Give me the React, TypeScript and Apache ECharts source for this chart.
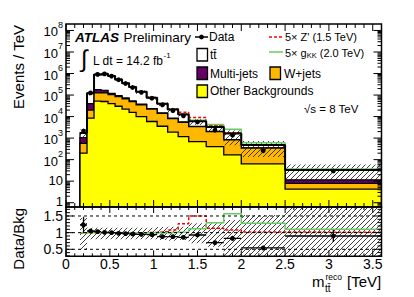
import React, { useEffect, useRef } from "react";
import * as echarts from "echarts";

const FONT = '"Liberation Sans", Arial, Helvetica, sans-serif';

// ---- data (Events / TeV) ----
const binEdges = [0.16, 0.24, 0.32, 0.4, 0.48, 0.56, 0.64, 0.72, 0.8, 0.92, 1.04, 1.16, 1.28, 1.4, 1.6, 1.8, 2.0, 2.5, 3.6];
const otherBkg = [200, 8500, 52500, 50100, 39800, 30200, 22400, 15800, 10000, 5900, 3550, 1900, 1175, 690, 400, 166, 63, 4.3];
const wJets = [375, 11500, 73500, 76000, 65000, 55000, 45000, 34000, 25500, 16500, 10500, 6200, 4200, 2700, 1600, 660, 280, 3.6];
const multiJets = [475, 19800, 52000, 40000, 16000, 9000, 5500, 3500, 2200, 1200, 700, 350, 230, 150, 60, 30, 12, 3.6];
const ttbar = [690, 80000, 713000, 789000, 638000, 431000, 282000, 181000, 103000, 52300, 25000, 13000, 7000, 2500, 1250, 800, 124, 21.6];
const dataOverBkg = [1.23, 1.05, 1.03, 1.01, 1.0, 0.98, 0.97, 0.96, 0.95, 0.94, 0.88, 0.88, 0.86, 0.93, 0.7, 0.83, 0.54, 0.9];
const dataErr = [0.2, 0.03, 0.01, 0.01, 0.01, 0.01, 0.01, 0.01, 0.015, 0.02, 0.025, 0.03, 0.04, 0.05, 0.07, 0.09, 0.12, 0.2];
const systUp = [0.44, 0.15, 0.15, 0.15, 0.15, 0.15, 0.15, 0.15, 0.15, 0.15, 0.17, 0.18, 0.18, 0.28, 0.28, 0.38, 0.53, 0.8];
const systDown = [0.52, 0.2, 0.2, 0.2, 0.2, 0.2, 0.2, 0.2, 0.2, 0.2, 0.22, 0.24, 0.22, 0.32, 0.42, 0.72, 0.72, 0.72];
const zprimeRatio = [1, 1, 1, 1, 1, 1, 1, 1, 1, 1.01, 1.03, 1.08, 1.27, 1.5, 1.13, 1.08, 1.02, 1.01];
const gkkRatio = [1, 1, 1, 1, 1, 1, 1, 1, 1, 1, 1, 1.01, 1.02, 1.12, 1.3, 1.57, 1.28, 1.1];

// ---- axis ticks / labels ----
const yExponents = [0, 1, 2, 3, 4, 5, 6, 7, 8];
const ratioTickLabels = [0.5, 1, 1.5];
const xTickLabels = [0, 0.5, 1, 1.5, 2, 2.5, 3, 3.5];

const XMIN = 0, XMAX = 3.6;
const YMIN = -0.2, YMAX = 8.3;
const RMIN = 0.29, RMAX = 1.77;

const C_OTHER = "#ffff00", C_W = "#ffb800", C_MJ = "#660066", C_Z = "#ff0000", C_G = "#66cc66";

const lg = Math.log10;

function makeHatch() {
  const s = 5;
  const c = document.createElement("canvas");
  c.width = s; c.height = s;
  const ctx = c.getContext("2d")!;
  ctx.strokeStyle = "#111";
  ctx.lineWidth = 0.8;
  ctx.beginPath();
  ctx.moveTo(0, s); ctx.lineTo(s, 0);
  ctx.moveTo(-s / 2, s / 2); ctx.lineTo(s / 2, -s / 2);
  ctx.moveTo(s / 2, s * 1.5); ctx.lineTo(s * 1.5, s / 2);
  ctx.stroke();
  return { image: c, repeat: "repeat" };
}

function buildOption() {
  const n = ttbar.length;
  const cumOther = otherBkg.slice();
  const cumW = otherBkg.map((v, i) => v + wJets[i]);
  const cumMJ = cumW.map((v, i) => v + multiJets[i]);
  const total = cumMJ.map((v, i) => v + ttbar[i]);
  const dataVals = total.map((t, i) => t * dataOverBkg[i]);
  const centers = ttbar.map((_, i) => (binEdges[i] + binEdges[i + 1]) / 2);
  const hatch = makeHatch();

  const stepData = (vals: number[]) => {
    const d = vals.map((v, i) => [binEdges[i], v]);
    d.push([binEdges[n], vals[n - 1]]);
    return d;
  };

  const stackLayer = (cum: number[], color: string, z: number) => ({
    type: "custom", xAxisIndex: 0, yAxisIndex: 0, z, silent: true, clip: true,
    data: [[0, 0]],
    renderItem: (_p: any, api: any) => {
      const pts: number[][] = [api.coord([binEdges[0], YMIN])];
      cum.forEach((v, i) => {
        pts.push(api.coord([binEdges[i], lg(v)]));
        pts.push(api.coord([binEdges[i + 1], lg(v)]));
      });
      pts.push(api.coord([binEdges[n], YMIN]));
      return { type: "polygon", shape: { points: pts }, style: { fill: color, stroke: "#000", lineWidth: 1.3 } };
    },
  });

  const bandSeries = (xi: number, yi: number, lows: number[], highs: number[], z: number) => ({
    type: "custom", xAxisIndex: xi, yAxisIndex: yi, z, silent: true, clip: true,
    data: lows.map((lo, i) => [binEdges[i], binEdges[i + 1], lo, highs[i]]),
    renderItem: (_p: any, api: any) => {
      const a = api.coord([api.value(0), api.value(3)]);
      const b = api.coord([api.value(1), api.value(2)]);
      return { type: "rect", shape: { x: a[0], y: a[1], width: b[0] - a[0], height: b[1] - a[1] }, style: { fill: hatch, stroke: null } };
    },
  });

  const stepLine = (xi: number, yi: number, vals: number[], color: string, width: number, type: any, z: number) => ({
    type: "line", xAxisIndex: xi, yAxisIndex: yi, z, silent: true, step: "end", symbol: "none",
    data: stepData(vals), lineStyle: { color, width, type }, clip: true,
  });

  const pointsSeries = (xi: number, yi: number, rows: number[][], withBar: boolean, z: number) => ({
    type: "custom", xAxisIndex: xi, yAxisIndex: yi, z, silent: true, clip: true,
    data: rows,
    renderItem: (_p: any, api: any) => {
      const c = api.coord([api.value(0), api.value(1)]);
      const lo = api.coord([api.value(0), api.value(2)]);
      const hi = api.coord([api.value(0), api.value(3)]);
      const children: any[] = [
        { type: "line", shape: { x1: c[0], y1: lo[1], x2: c[0], y2: hi[1] }, style: { stroke: "#000", lineWidth: 1.3 } },
      ];
      if (withBar) {
        const l = api.coord([api.value(4), api.value(1)]);
        const r = api.coord([api.value(5), api.value(1)]);
        children.push({ type: "line", shape: { x1: l[0], y1: c[1], x2: r[0], y2: c[1] }, style: { stroke: "#000", lineWidth: 1.3 } });
      }
      children.push({ type: "circle", shape: { cx: c[0], cy: c[1], r: 2.4 }, style: { fill: "#000" } });
      return { type: "group", children };
    },
  });

  const xMinor: number[] = [];
  for (let k = 1; k < 36; k++) if (k % 5) xMinor.push(k / 10);
  const yMinor: number[] = [];
  for (let e = -1; e <= 8; e++) for (let m = 2; m <= 9; m++) { const v = e + lg(m); if (v > YMIN && v < YMAX) yMinor.push(v); }
  const rMinor: number[] = [];
  for (let k = 3; k <= 17; k++) if (k % 5) rMinor.push(k / 10);

  const frameSeries = (xi: number, yi: number, y0: number, y1: number, yMaj: number[], yMin: number[], yMajLen: number, yMinLen: number, xMajLen: number, xMinLen: number, dashed: number[]) => ({
    type: "custom", xAxisIndex: xi, yAxisIndex: yi, z: 20, silent: true, clip: false,
    data: [[0, y0]],
    renderItem: (_p: any, api: any) => {
      const ch: any[] = [];
      const seg = (x1: number, yA: number, x2: number, yB: number, w = 1, dash?: number[]) =>
        ch.push({ type: "line", shape: { x1, y1: yA, x2, y2: yB }, style: { stroke: "#000", lineWidth: w, lineDash: dash } });
      const bl = api.coord([XMIN, y0]);
      const tr = api.coord([XMAX, y1]);
      dashed.forEach((v) => { const p = api.coord([XMIN, v]); seg(bl[0], p[1], tr[0], p[1], 1, [3, 3]); });
      yMaj.forEach((v) => { const p = api.coord([XMIN, v]); seg(bl[0], p[1], bl[0] + yMajLen, p[1]); seg(tr[0], p[1], tr[0] - yMajLen, p[1]); });
      yMin.forEach((v) => { const p = api.coord([XMIN, v]); seg(bl[0], p[1], bl[0] + yMinLen, p[1]); seg(tr[0], p[1], tr[0] - yMinLen, p[1]); });
      xTickLabels.forEach((v) => { const p = api.coord([v, y0]); seg(p[0], bl[1], p[0], bl[1] - xMajLen); seg(p[0], tr[1], p[0], tr[1] + xMajLen); });
      xMinor.forEach((v) => { const p = api.coord([v, y0]); seg(p[0], bl[1], p[0], bl[1] - xMinLen); seg(p[0], tr[1], p[0], tr[1] + xMinLen); });
      ch.push({ type: "rect", shape: { x: bl[0], y: tr[1], width: tr[0] - bl[0], height: bl[1] - tr[1] }, style: { fill: "none", stroke: "#000", lineWidth: 1.5 } });
      return { type: "group", children: ch };
    },
  });

  const txt = (x: number, y: number, text: string, size: number, extra: any = {}) => ({
    type: "text", x, y, silent: true, z: 50,
    style: { text, fontSize: size, fontFamily: FONT, fill: "#000", verticalAlign: "middle", align: "left", ...extra },
  });
  const box = (x: number, y: number, fill: string) => ({
    type: "rect", silent: true, z: 50, shape: { x, y, width: 10.5, height: 12.5 }, style: { fill, stroke: "#000", lineWidth: 1.3 },
  });
  const hline = (x1: number, x2: number, y: number, color: string, dash?: number[]) => ({
    type: "line", silent: true, z: 50, shape: { x1, y1: y, x2, y2: y }, style: { stroke: color, lineWidth: 1.5, lineDash: dash },
  });

  const graphic: any[] = [
    txt(75, 37, "ATLAS", 13.5, { fontWeight: "bold", fontStyle: "italic" }),
    txt(123.5, 37, "Preliminary", 13.5),
    txt(81, 58, "∫", 24),
    txt(93, 61, "L dt = 14.2 fb", 12),
    txt(163.5, 55, "-1", 8),
    hline(195, 208, 37, "#000"),
    { type: "circle", silent: true, z: 50, shape: { cx: 201.5, cy: 37, r: 2.4 }, style: { fill: "#000" } },
    txt(209, 37, "Data", 12),
    box(197, 48.5, "#ffffff"),
    txt(210, 55, "tt\u0304", 12),
    box(197, 67, C_MJ),
    txt(210, 73.5, "Multi-jets", 12),
    box(197, 85, C_OTHER),
    txt(210, 91, "Other Backgrounds", 12),
    hline(269, 283, 37, C_Z, [3, 2]),
    txt(285, 37, "5× Z' (1.5 TeV)", 11),
    hline(269, 283, 52, C_G),
    {
      type: "text", x: 285, y: 53, silent: true, z: 50,
      style: {
        text: "5× g{s|KK} (2.0 TeV)", fontSize: 11, fontFamily: FONT, fill: "#000", verticalAlign: "middle",
        rich: { s: { fontSize: 7.5, fontFamily: FONT, verticalAlign: "bottom", padding: [5, 0, 0, 0] } },
      },
    },
    box(270, 67, C_W),
    txt(284, 73.5, "W+jets", 12),
    txt(304, 109, "√s = 8 TeV", 11.5),
    // axis titles
    { type: "text", x: 18, y: 25, rotation: Math.PI / 2, silent: true, z: 50, style: { text: "Events / TeV", fontSize: 15, fontFamily: FONT, fill: "#000", align: "right", verticalAlign: "middle" } },
    { type: "text", x: 18, y: 208, rotation: Math.PI / 2, silent: true, z: 50, style: { text: "Data/Bkg", fontSize: 15, fontFamily: FONT, fill: "#000", align: "right", verticalAlign: "middle" } },
    txt(312, 281, "m", 15),
    txt(325.5, 277.2, "reco", 8.5, { lineHeight: 9 }),
    txt(325, 288.5, "tt\u0304", 10, { lineHeight: 10 }),
    txt(347, 281, "[TeV]", 15),
  ];

  const axisFont = { fontFamily: FONT, color: "#000" };

  return {
    animation: false,
    backgroundColor: "#fff",
    grid: [
      { left: 66, top: 24, width: 315.5, height: 183 },
      { left: 66, top: 207, width: 315.5, height: 49.3 },
    ],
    xAxis: [
      { gridIndex: 0, type: "value", min: XMIN, max: XMAX, interval: 0.5, axisLine: { show: false }, axisTick: { show: false }, splitLine: { show: false }, axisLabel: { show: false } },
      {
        gridIndex: 1, type: "value", min: XMIN, max: XMAX, interval: 0.5, axisLine: { show: false }, axisTick: { show: false }, splitLine: { show: false },
        axisLabel: {
          ...axisFont, fontSize: 14, margin: 2, lineHeight: 12,
          formatter: (v: number) => { const m = xTickLabels.find((t) => Math.abs(t - v) < 1e-6); return m === undefined ? "" : String(m); },
        },
      },
    ],
    yAxis: [
      {
        gridIndex: 0, type: "value", min: YMIN, max: YMAX, splitNumber: 8, axisLine: { show: false }, axisTick: { show: false }, splitLine: { show: false },
        axisLabel: {
          ...axisFont, fontSize: 13, margin: 3, lineHeight: 12, padding: [0, 0, 2, 0],
          formatter: (v: number) => {
            const m = yExponents.find((e) => Math.abs(e - v) < 1e-6);
            if (m === undefined) return "";
            if (m === 0) return "1";
            if (m === 1) return "10";
            return `{b|10}{e|${m}}`;
          },
          rich: {
            b: { fontSize: 13, fontFamily: FONT, color: "#000", lineHeight: 18, verticalAlign: "bottom" },
            e: { fontSize: 9, fontFamily: FONT, color: "#000", lineHeight: 9, verticalAlign: "top" },
          },
        },
      },
      {
        gridIndex: 1, type: "value", min: RMIN, max: RMAX, splitNumber: 3, axisLine: { show: false }, axisTick: { show: false }, splitLine: { show: false },
        axisLabel: {
          ...axisFont, fontSize: 14, margin: 3, lineHeight: 12, padding: [4, 0, 0, 0],
          formatter: (v: number) => { const m = ratioTickLabels.find((t) => Math.abs(t - v) < 1e-6); return m === undefined ? "" : String(m); },
        },
      },
    ],
    series: [
      stackLayer(total, "#ffffff", 1),
      stackLayer(cumMJ, C_MJ, 2),
      stackLayer(cumW, C_W, 3),
      stackLayer(cumOther, C_OTHER, 4),
      bandSeries(0, 0, total.map((t, i) => lg(t * (1 - systDown[i]))), total.map((t, i) => lg(t * (1 + systUp[i]))), 5),
      stepLine(0, 0, total.map((t, i) => lg(t * zprimeRatio[i])), C_Z, 1.5, [3, 2], 6),
      stepLine(0, 0, total.map((t, i) => lg(t * gkkRatio[i])), C_G, 1.5, "solid", 6),
      stepLine(0, 0, total.map((t) => lg(t)), "#000", 2, "solid", 7),
      pointsSeries(0, 0, dataVals.map((d, i) => [centers[i], lg(d), lg(d * (1 - dataErr[i])), lg(d * (1 + dataErr[i]))]), false, 8),
      frameSeries(0, 0, YMIN, YMAX, yExponents, yMinor, 8, 4, 7, 4, []),
      // ratio panel
      bandSeries(1, 1, systDown.map((d) => 1 - d), systUp.map((u) => 1 + u), 1),
      frameSeries(1, 1, RMIN, RMAX, ratioTickLabels, rMinor, 7, 4, 6, 3, ratioTickLabels),
      stepLine(1, 1, zprimeRatio, C_Z, 1.5, [3, 2], 3),
      stepLine(1, 1, gkkRatio, C_G, 1.5, "solid", 3),
      pointsSeries(1, 1, dataOverBkg.map((r, i) => [centers[i], r, r * (1 - dataErr[i]), r * (1 + dataErr[i]), binEdges[i], binEdges[i + 1]]), true, 4),
    ],
    graphic,
  };
}

export default function App() {
  const ref = useRef<HTMLDivElement>(null);
  useEffect(() => {
    if (!ref.current) return;
    const chart = echarts.init(ref.current, null, { renderer: "svg" });
    chart.setOption(buildOption() as any);
    return () => chart.dispose();
  }, []);
  return <div ref={ref} style={{ position: "fixed", left: 0, top: 0, width: 414, height: 297, background: "#fff" }} />;
}
